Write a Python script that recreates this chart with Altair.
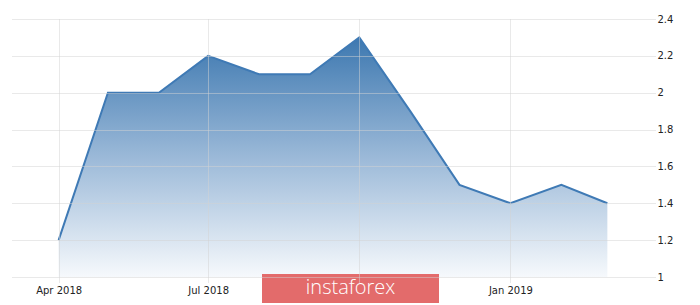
import altair as alt
import pandas as pd

months = ["2018-04-01", "2018-05-01", "2018-06-01", "2018-07-01", "2018-08-01",
          "2018-09-01", "2018-10-01", "2018-11-01", "2018-12-01", "2019-01-01",
          "2019-02-01", "2019-03-01"]
values = [1.2, 2.0, 2.0, 2.2, 2.1, 2.1, 2.3, 1.9, 1.5, 1.4, 1.5, 1.4]
x_ticks = ["2018-04-01", "2018-07-01", "2018-10-01", "2019-01-01"]
y_ticks = [1, 1.2, 1.4, 1.6, 1.8, 2, 2.2, 2.4]

df = pd.DataFrame({"date": pd.to_datetime(months), "value": values})

font = "DejaVu Sans"

x_enc = alt.X(
    "date:T",
    scale=alt.Scale(domain=["2018-03-03", "2019-03-30"]),
    axis=alt.Axis(
        values=[pd.Timestamp(v).isoformat() for v in x_ticks],
        labelExpr="month(datum.value) == 9 ? '' : timeFormat(datum.value, '%b %Y')",
        title=None, domain=False, labelOverlap=False,
        grid=True, gridColor="#d2d2d2", gridDash=[1, 1], gridWidth=1,
        ticks=True, tickColor="#d2d2d2", tickDash=[1, 1], tickSize=5,
        labelFont=font, labelFontSize=10, labelColor="#222222",
        labelPadding=3, zindex=1,
    ),
)
y_enc = alt.Y(
    "value:Q",
    scale=alt.Scale(domain=[1, 2.4], nice=False, zero=False),
    axis=alt.Axis(
        orient="right", values=y_ticks, title=None, domain=False, ticks=False,
        grid=True, gridColor="#d2d2d2", gridDash=[1, 1], gridWidth=1,
        labelFont=font, labelFontSize=10, labelColor="#222222",
        labelPadding=2, labelAlign="left", zindex=1, labelOverlap=False,
        labelBound=False, labelFlush=False,
        labelExpr="format(datum.value, '.1~f')",
    ),
)

area = alt.Chart(df).mark_area(
    line=False,
    fill=alt.Gradient(
        gradient="linear",
        stops=[
            alt.GradientStop(color="#3d78b0", offset=0),
            alt.GradientStop(color="#9bb9d8", offset=0.5),
            alt.GradientStop(color="#f6f9fc", offset=1),
        ],
        x1=0, x2=0, y1=0, y2=1,
    ),
).encode(x=x_enc, y=y_enc, y2=alt.datum(1))

line = alt.Chart(df).mark_line(color="#3f7ab5", strokeWidth=2).encode(
    x=x_enc, y=y_enc
)

box = alt.Chart(df.head(1)).mark_rect(color="#e36b6b", clip=False).encode(
    x=alt.value(251), x2=alt.value(428), y=alt.value(255), y2=alt.value(284)
)
logo = alt.Chart(pd.DataFrame({"t": ["instaforex"]})).mark_text(
    color="white", font="Open Sans", fontSize=20, fontWeight=300,
    align="center", baseline="middle", clip=False,
).encode(text="t:N", x=alt.value(339.5), y=alt.value(269))

chart = alt.layer(area, line, box, logo).properties(
    width=644, height=258,
    padding={"left": 11, "top": 19, "right": 45, "bottom": 28},
    autosize=alt.AutoSizeParams(type="none"),
).configure_view(stroke=None)

chart.save("out.html", embed_options={"renderer": "svg", "actions": False})
